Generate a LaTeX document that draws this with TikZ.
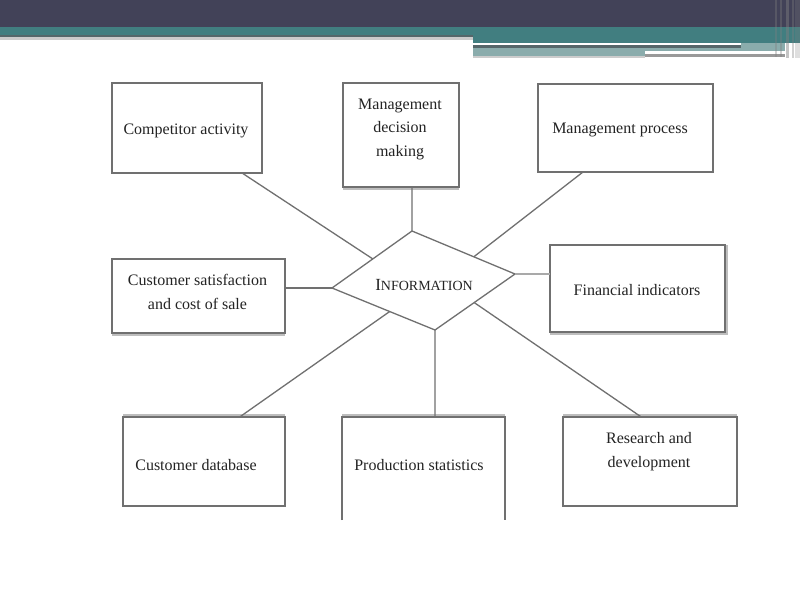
\documentclass[tikz,border=0pt]{standalone}
\usepackage{fontspec}
\setmainfont{Liberation Serif}
\usetikzlibrary{calc}
\definecolor{hdrdark}{RGB}{66,66,88}
\definecolor{hdrteal}{RGB}{65,126,128}
\definecolor{hdrlight}{RGB}{138,172,172}
\definecolor{hdrline}{RGB}{85,103,106}
\definecolor{linegray}{RGB}{112,112,112}
\definecolor{shadegray}{RGB}{190,190,190}
\definecolor{txt}{RGB}{35,35,35}
\begin{document}
\begin{tikzpicture}[x=1pt,y=-1pt,
  box/.style={draw=linegray,line width=1.4pt,rectangle,inner sep=0pt,outer sep=0pt},
  openbox/.style={rectangle,inner sep=0pt,outer sep=0pt},
  lbl/.style={font=\fontsize{16}{23.5}\selectfont,text=txt,align=center,inner sep=0pt},
  conn/.style={draw=linegray,line width=1.3pt},
  shade/.style={draw=shadegray,line width=2pt}]
\useasboundingbox (0,0) rectangle (800,600);
\fill[white] (0,0) rectangle (800,600);
% header
\fill[hdrdark] (0,0) rectangle (800,27);
\fill[hdrteal] (0,27) rectangle (800,35);
\fill[hdrline] (0,35) rectangle (473,37);
\fill[shadegray!80] (0,37) rectangle (473,40);
\fill[hdrteal] (473,27) rectangle (800,43);
\fill[hdrlight] (473,43) rectangle (785,57);
\fill[white] (473,43) rectangle (741,45);
\fill[hdrline] (473,45) rectangle (741,47.5);
\fill[white] (645,51) rectangle (785,54);
\fill[gray!80] (645,54) rectangle (785,57);
\fill[gray!40] (473,56) rectangle (645,58);
\fill[gray,opacity=0.35] (775,0) rectangle (777,57);
\fill[gray,opacity=0.35] (780,0) rectangle (782,57);
\fill[gray,opacity=0.45] (786,0) rectangle (789,58);
\fill[gray,opacity=0.35] (792,0) rectangle (794,58);
\fill[gray,opacity=0.25] (795,0) rectangle (800,58);

% boxes
\node[box,minimum width=150pt,minimum height=90pt] (comp) at (187,128) {};
\node[box,minimum width=116pt,minimum height=104pt] (mdm) at (401,135) {};
\node[box,minimum width=175pt,minimum height=88pt] (mproc) at (625.5,128) {};
\node[box,minimum width=173pt,minimum height=74pt] (csat) at (198.5,296) {};
\node[box,minimum width=175pt,minimum height=87pt] (fin) at (637.5,288.5) {};
\node[box,minimum width=162pt,minimum height=89pt] (cdb) at (204,461.5) {};
\node[openbox,minimum width=163pt,minimum height=103pt] (prod) at (423.5,468.5) {};
\node[box,minimum width=174pt,minimum height=89pt] (rnd) at (650,461.5) {};
\draw[linegray,line width=1.4pt] (prod.south west) -- (prod.north west) -- (prod.north east) -- (prod.south east);

% soft shadow edges
\draw[shade] ([yshift=-2pt]mdm.south west) -- ([yshift=-2pt]mdm.south east);
\draw[shade] ([yshift=-2pt]csat.south west) -- ([yshift=-2pt]csat.south east);
\draw[shade] ([xshift=2pt]fin.north east) -- ([xshift=2pt,yshift=-2pt]fin.south east) -- ([yshift=-2pt]fin.south west);
\draw[shade] ([yshift=2pt]prod.north west) -- ([yshift=2pt]prod.north east);
\draw[shade] ([yshift=2pt]cdb.north west) -- ([yshift=2pt]cdb.north east);
\draw[shade] ([yshift=2pt]rnd.north west) -- ([yshift=2pt]rnd.north east);

% labels
\node[lbl] (compt) at (186,131) {Competitor activity};
\node[lbl] (mdmt) at (400,129) {Management\\decision\\making};
\node[lbl] (mproct) at (620,130) {Management process};
\node[lbl] (csatt) at (197.5,292) {Customer satisfaction\\and cost of sale};
\node[lbl] (fint) at (637,290) {Financial indicators};
\node[lbl] (cdbt) at (196,465) {Customer database};
\node[lbl] (prodt) at (419,465) {Production statistics};
\node[lbl] (rndt) at (649,451.5) {Research and\\development};

% diamond
\coordinate (T) at (412,231);
\coordinate (R) at (515,274);
\coordinate (B) at (435,330);
\coordinate (L) at (332,288);
\draw[linegray,line width=1.3pt,line join=miter] (T) -- (R) -- (B) -- (L) -- cycle;
\node[inner sep=0pt,text=txt] (info) at (424,285)
  {{\fontsize{17}{17}\selectfont I}{\fontsize{14}{14}\selectfont NFORMATION}};

% connectors
\draw[conn] ($(comp.south west)!0.867!(comp.south east)$) -- ($(L)!0.51!(T)$);
\draw[conn] ($(mdm.south west)!0.595!(mdm.south east)$) -- (T);
\draw[conn] ($(mproc.south west)!0.257!(mproc.south east)$) -- ($(T)!0.6!(R)$);
\draw[conn] (L) -- (L -| csat.east);
\draw[conn,draw=linegray!60,line width=2pt] (R) -- (R -| fin.west);
\draw[conn] ($(L)!0.56!(B)$) -- ($(cdb.north west)!0.72!(cdb.north east)$);
\draw[conn] (B) -- ($(prod.north west)!0.57!(prod.north east)$);
\draw[conn] ($(B)!0.49!(R)$) -- ($(rnd.north west)!0.45!(rnd.north east)$);
\end{tikzpicture}
\end{document}
